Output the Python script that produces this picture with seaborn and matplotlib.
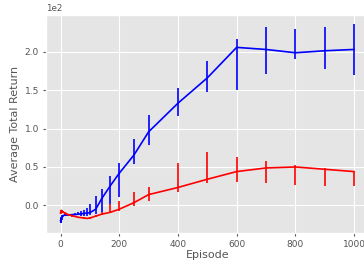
import numpy as np
import pandas as pd
import seaborn as sns
import matplotlib
matplotlib.use('Agg')
import matplotlib.pyplot as plt
#---------------------------------------------------------------------------#
episodes = [0, 1, 2, 3, 4, 5, 6, 8, 10, 15, 20, 30, 40, 50, 60, 70, 80, 90, 100,
            120, 140, 170, 200, 250, 300, 400, 500, 600, 700, 800, 900, 1000]

blue_mean = [-20, -21, -19, -17, -16, -15, -14.5, -13.5, -13, -12.5, -12.5, -12.5, -12, -12,
             -11.5, -11, -10.5, -10, -9.5, -5, 8.6, 25.8, 41.8, 65.5, 95.7, 133, 166,
             205.7, 203, 198.7, 201.3, 203]
blue_low = [-23, -23, -22, -20, -18.5, -17, -16, -15, -14, -13.5, -13.5, -13.5, -13, -13,
            -13, -14, -14, -14, -12, -11, -8.7, 2, 10.7, 53.8, 79, 116, 148,
            150, 171, 190, 177, 169.5]
blue_high = [-17, -18, -16, -14.5, -14, -13.5, -13, -12.5, -12, -11.5, -11.5, -11.5, -11, -10.5,
             -9, -7, -6, -3, 2, 11.6, 20.7, 38, 54.7, 87, 118, 152.6, 188,
             216, 231.6, 229, 231.6, 235.8]

red_mean = [-10, -8, -7, -6.5, -7, -7.5, -8, -8.5, -9, -10, -11, -12.5, -13.5, -14.5,
            -15.5, -16, -16.5, -17, -16.5, -14, -11.5, -9, -5, 3.5, 14, 23.3, 34,
            44, 48.7, 50, 47, 44]
red_low = [-11, -9, -8, -7.5, -8, -8.5, -9, -9.5, -10, -11, -12, -13.5, -14.5, -15.5,
           -16.5, -17, -17.5, -18, -17.5, -15.5, -13, -10, -7, -1.3, 6, 16.8, 28.5,
           30.5, 28.5, 26.3, 24.6, 24.6]
red_high = [-9, -7, -6, -5.5, -6, -6.5, -7, -7.5, -8, -9, -10, -11.5, -12.5, -13.5,
            -14.5, -15, -15.5, -16, -15.5, -12.5, -9, 1.7, 6, 16.8, 24, 54.7, 69.3,
            63.4, 57.3, 53, 48.7, 44]

plt.style.use('ggplot')
plt.rcParams['font.family'] = ['DejaVu Sans']

fig = plt.figure(figsize=(3.64, 2.66), dpi=100)
ax = fig.add_axes([0.126, 0.124, 0.887, 0.82])

for mean, low, high, colour in [(blue_mean, blue_low, blue_high, 'blue'),
                                (red_mean, red_low, red_high, 'red')]:
    df = pd.DataFrame({'Episode': episodes, 'Return': mean})
    sns.lineplot(data=df, x='Episode', y='Return', color=colour, linewidth=1.2, ax=ax)
    ax.vlines(episodes, low, high, color=colour, linewidth=1.2)

ax.set_xlim(-50, 1050)
ax.set_ylim(-36, 248)
ax.set_xticks([0, 200, 400, 600, 800, 1000])
ax.set_yticks([0, 50, 100, 150, 200])
ax.ticklabel_format(axis='y', style='sci', scilimits=(0, 0))
ax.yaxis.get_offset_text().set_fontsize(6.3)
ax.tick_params(labelsize=6.5, length=2.5, pad=2.5)
ax.set_xlabel('Episode', fontsize=8, color='#555555', labelpad=1)
ax.set_ylabel('Average Total Return', fontsize=8, color='#555555', labelpad=3)

fig.savefig('out.png', dpi=100)
